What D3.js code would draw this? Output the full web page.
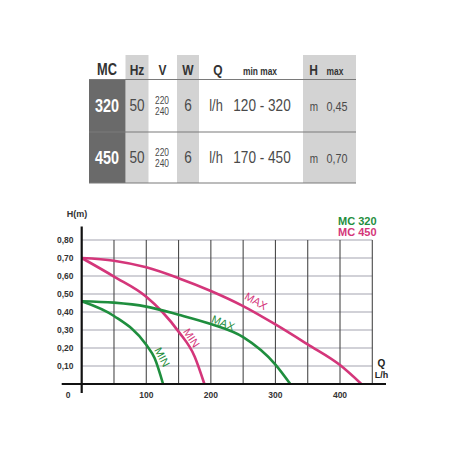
<!DOCTYPE html>
<html>
<head>
<meta charset="utf-8">
<script src="https://cdn.jsdelivr.net/npm/d3@7"></script>
<style>
  body { margin: 0; background: #fff; }
  svg text { font-family: 'Liberation Sans', Arial, sans-serif; }
</style>
</head>
<body>
<script>
// ---- table data ----
var models = ["320", "450"];
var hz = ["50", "50"];
var volts = [["220", "240"], ["220", "240"]];
var watts = ["6", "6"];
var qRange = ["120 - 320", "170 - 450"];
var hMax = ["0,45", "0,70"];

// ---- curve data (Q l/h, H m) ----
var mc320Max = [[0, 0.46], [50, 0.452], [100, 0.43], [150, 0.385], [200, 0.333], [250, 0.26], [300, 0.108], [323, 0]];
var mc320Min = [[0, 0.46], [50, 0.378], [100, 0.218], [113, 0.143], [126, 0]];
var mc450Max = [[0, 0.70], [50, 0.685], [100, 0.648], [150, 0.588], [200, 0.517], [250, 0.433], [300, 0.331], [350, 0.22], [400, 0.105], [433, 0]];
var mc450Min = [[0, 0.70], [50, 0.597], [100, 0.485], [125, 0.40], [150, 0.291], [175, 0.152], [190, 0]];

var xTicks = [100, 200, 300, 400];
var yTicks = [0.1, 0.2, 0.3, 0.4, 0.5, 0.6, 0.7, 0.8];

var green = "#1f8e3e";
var pink = "#d4367a";

var svg = d3.select("body").append("svg")
  .attr("width", 452)
  .attr("height", 452);

// condensed looking text: squeeze horizontally
var ctext = function(parent, x, y, txt, size, opts) {
  opts = opts || {};
  return parent.append("text")
    .attr("transform", "translate(" + x + "," + y + ") scale(" + (opts.sx || 0.8) + ",1)")
    .attr("text-anchor", opts.anchor || "middle")
    .attr("font-size", size)
    .attr("font-weight", opts.bold ? "bold" : "normal")
    .attr("fill", opts.fill || "#4a4a4a")
    .text(txt);
};

//================= table ==================
var table = svg.append("g");
var cols = [
  {x0: 125.5, x1: 148.5},  // Hz
  {x0: 177, x1: 199},      // W
  {x0: 303, x1: 356}       // H
];
cols.forEach(function(c) {
  table.append("rect").attr("x", c.x0).attr("y", 55).attr("width", c.x1 - c.x0).attr("height", 128).attr("fill", "#d3d3d3");
});
table.append("rect").attr("x", 89).attr("y", 80).attr("width", 36.5).attr("height", 103).attr("fill", "#6a6a6a");

[79.5, 132, 183].forEach(function(yy) {
  table.append("line").attr("x1", 89).attr("x2", 356).attr("y1", yy).attr("y2", yy)
    .attr("stroke", "#7a7a7a").attr("stroke-width", 1.2);
});

var hb = {bold: true, fill: "#333"};
ctext(table, 107, 75, "MC", 16, hb);
ctext(table, 137, 75, "Hz", 15, hb);
ctext(table, 162.5, 75, "V", 15, hb);
ctext(table, 188, 75, "W", 15, hb);
ctext(table, 218, 75, "Q", 15, hb);
ctext(table, 260, 75, "min  max", 10.5, hb);
ctext(table, 313.5, 75, "H", 15, hb);
ctext(table, 335, 75, "max", 10.5, hb);

models.forEach(function(m, i) {
  var base = i == 0 ? 110.5 : 162.5;
  ctext(table, 107, base + 1, m, 18, {bold: true, fill: "#fff"});
  ctext(table, 137, base, hz[i], 17);
  ctext(table, 162, base - 7, volts[i][0], 10.5);
  ctext(table, 162, base + 4, volts[i][1], 10.5);
  ctext(table, 188, base, watts[i], 17);
  ctext(table, 216, base, "l/h", 16);
  ctext(table, 262, base, qRange[i], 17);
  ctext(table, 314, base, "m", 12.5);
  ctext(table, 337, base, hMax[i], 13.5);
});

//================= chart ==================
var x = d3.scaleLinear().domain([0, 450]).range([81.7, 372.3]);
var y = d3.scaleLinear().domain([0, 0.8]).range([384, 240]);

var grid = svg.append("g");
grid.selectAll(".hgrid").data(yTicks).enter().append("line")
  .attr("x1", x(0)).attr("x2", x(450))
  .attr("y1", function(d) { return y(d); }).attr("y2", function(d) { return y(d); })
  .attr("stroke", "#a4a4b0").attr("stroke-width", 1.2);
grid.selectAll(".vgrid").data(d3.range(50, 451, 50)).enter().append("line")
  .attr("x1", function(d) { return x(d); }).attr("x2", function(d) { return x(d); })
  .attr("y1", y(0.8)).attr("y2", y(0))
  .attr("stroke", "#4a4a4a").attr("stroke-width", 1.1);

var line = d3.line()
  .x(function(d) { return x(d[0]); })
  .y(function(d) { return y(d[1]); })
  .curve(d3.curveMonotoneX);

var curves = [
  {data: mc450Max, color: pink},
  {data: mc450Min, color: pink},
  {data: mc320Max, color: green},
  {data: mc320Min, color: green}
];
curves.forEach(function(c) {
  svg.append("path").attr("d", line(c.data)).attr("fill", "none")
    .attr("stroke", c.color).attr("stroke-width", 2.6);
});

// curve labels
var curveLabels = [
  {q: 270, h: 0.461, angle: 30, txt: "MAX", color: pink},
  {q: 219, h: 0.339, angle: 22, txt: "MAX", color: green},
  {q: 170, h: 0.256, angle: 57, txt: "MIN", color: pink},
  {q: 124.5, h: 0.15, angle: 62, txt: "MIN", color: green}
];
curveLabels.forEach(function(l) {
  svg.append("text")
    .attr("transform", "translate(" + x(l.q) + "," + y(l.h) + ") rotate(" + l.angle + ")")
    .attr("text-anchor", "middle").attr("dy", "0.35em")
    .attr("font-size", 11).attr("fill", l.color).text(l.txt);
});

// axes
svg.append("line").attr("x1", 61.7).attr("x2", 386).attr("y1", y(0)).attr("y2", y(0))
  .attr("stroke", "#111").attr("stroke-width", 2.2);
svg.append("line").attr("x1", x(0)).attr("x2", x(0)).attr("y1", 226.5).attr("y2", 393)
  .attr("stroke", "#111").attr("stroke-width", 2.2);

svg.selectAll(".ylab").data(yTicks).enter().append("text")
  .attr("x", 73.5).attr("y", function(d) { return y(d); }).attr("dy", "0.35em")
  .attr("text-anchor", "end").attr("font-size", 8.5).attr("font-weight", "bold").attr("fill", "#333")
  .text(function(d) { return d3.format(".2f")(d).replace(".", ","); });

svg.selectAll(".xlab").data(xTicks).enter().append("text")
  .attr("x", function(d) { return x(d); }).attr("y", 395).attr("dy", "0.35em")
  .attr("text-anchor", "middle").attr("font-size", 8.5).attr("font-weight", "bold").attr("fill", "#333")
  .text(function(d) { return d; });
svg.append("text").attr("x", 68).attr("y", 395).attr("dy", "0.35em").attr("text-anchor", "middle")
  .attr("font-size", 8.5).attr("font-weight", "bold").attr("fill", "#333").text("0");

svg.append("text").attr("x", 77).attr("y", 217).attr("text-anchor", "middle")
  .attr("font-size", 9).attr("font-weight", "bold").attr("fill", "#333").text("H(m)");
svg.append("text").attr("x", 381.5).attr("y", 367).attr("text-anchor", "middle")
  .attr("font-size", 10).attr("font-weight", "bold").attr("fill", "#222").text("Q");
svg.append("text").attr("x", 381.5).attr("y", 378).attr("text-anchor", "middle")
  .attr("font-size", 9).attr("font-weight", "bold").attr("fill", "#222").text("L/h");

// legend
svg.append("text").attr("x", 338).attr("y", 225).attr("font-size", 11).attr("font-weight", "bold")
  .attr("fill", green).text("MC 320");
svg.append("text").attr("x", 338).attr("y", 236).attr("font-size", 11).attr("font-weight", "bold")
  .attr("fill", pink).text("MC 450");
</script>
</body>
</html>
